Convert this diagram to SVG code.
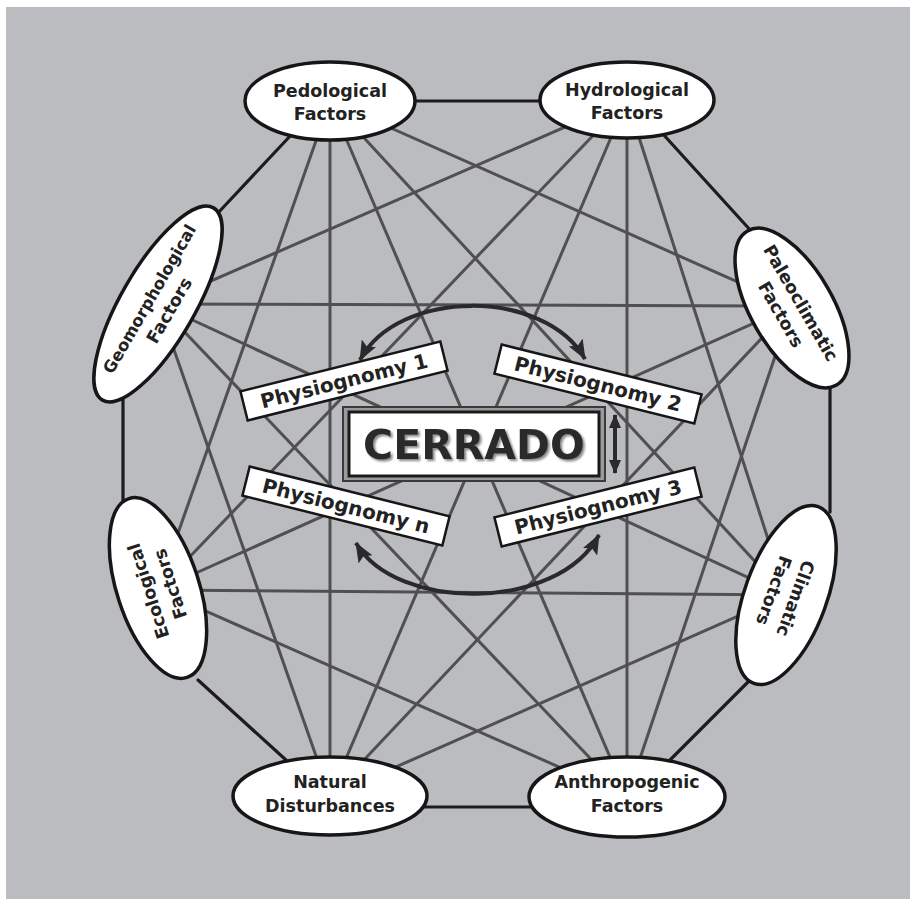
<svg xmlns="http://www.w3.org/2000/svg" width="910" height="899" viewBox="0 0 910 899">
<defs>
<style>
.bg{fill:#bbbcc0}
.edge{stroke:#1c1c1c;stroke-width:3.2;fill:none;stroke-linecap:round}
.link{stroke:#505050;stroke-width:3;fill:none}
.node ellipse{fill:#fff;stroke:#161616;stroke-width:3.5}
.node text{font-family:"DejaVu Sans",Verdana,sans-serif;font-weight:bold;font-size:17.5px;fill:#222;text-anchor:middle}
.phys rect{fill:#fff;stroke:#161616;stroke-width:2.5}
.phys text{font-family:"DejaVu Sans",Verdana,sans-serif;font-weight:bold;font-size:20px;fill:#222;text-anchor:middle}
.arc{stroke:#2a2a2a;stroke-width:4;fill:none}
</style>
<marker id="ah" markerUnits="userSpaceOnUse" viewBox="0 0 20 16" markerWidth="20" markerHeight="16" refX="19" refY="8" orient="auto-start-reverse"><path d="M0,0 L20,8 L0,16 L4,8 z" fill="#2a2a2a"/></marker>
<marker id="ahs" markerUnits="userSpaceOnUse" viewBox="0 0 14 12" markerWidth="14" markerHeight="12" refX="13" refY="6" orient="auto-start-reverse"><path d="M0,0 L14,6 L0,12 z" fill="#2a2a2a"/></marker>
<filter id="sh" x="-10%" y="-20%" width="120%" height="140%"><feDropShadow dx="2" dy="2" stdDeviation="1.2" flood-color="#8a8a8a" flood-opacity="1"/></filter>
</defs>
<rect class="bg" x="6" y="7" width="904" height="892"/>
<g id="connectors">
<line class="link" x1="330" y1="101" x2="792" y2="306"/>
<line class="link" x1="330" y1="101" x2="786" y2="595"/>
<line class="link" x1="330" y1="101" x2="627" y2="797"/>
<line class="link" x1="330" y1="101" x2="330" y2="796"/>
<line class="link" x1="330" y1="101" x2="158" y2="590"/>
<line class="link" x1="627" y1="100" x2="786" y2="595"/>
<line class="link" x1="627" y1="100" x2="627" y2="797"/>
<line class="link" x1="627" y1="100" x2="330" y2="796"/>
<line class="link" x1="627" y1="100" x2="158" y2="590"/>
<line class="link" x1="627" y1="100" x2="158" y2="304"/>
<line class="link" x1="792" y1="306" x2="627" y2="797"/>
<line class="link" x1="792" y1="306" x2="330" y2="796"/>
<line class="link" x1="792" y1="306" x2="158" y2="590"/>
<line class="link" x1="792" y1="306" x2="158" y2="304"/>
<line class="link" x1="786" y1="595" x2="330" y2="796"/>
<line class="link" x1="786" y1="595" x2="158" y2="590"/>
<line class="link" x1="786" y1="595" x2="158" y2="304"/>
<line class="link" x1="627" y1="797" x2="158" y2="590"/>
<line class="link" x1="627" y1="797" x2="158" y2="304"/>
<line class="link" x1="330" y1="796" x2="158" y2="304"/>
<line class="edge" x1="410" y1="101" x2="545" y2="101"/>
<line class="edge" x1="662" y1="133" x2="752" y2="232"/>
<line class="edge" x1="830" y1="378" x2="830" y2="512"/>
<line class="edge" x1="750" y1="680" x2="670" y2="760"/>
<line class="edge" x1="420" y1="807" x2="534" y2="807"/>
<line class="edge" x1="286" y1="760" x2="198" y2="680"/>
<line class="edge" x1="123" y1="392" x2="123" y2="502"/>
<line class="edge" x1="217" y1="214" x2="292" y2="134"/>
<path class="arc" d="M360,360 C398,288 545,288 585,359" marker-start="url(#ah)" marker-end="url(#ah)"/>
<path class="arc" d="M356,543 C396,612 558,612 599,535" marker-start="url(#ah)" marker-end="url(#ah)"/>
<line class="arc" x1="615" y1="415" x2="615" y2="473" stroke-width="3.5" marker-start="url(#ahs)" marker-end="url(#ahs)"/>
</g>
<g id="pedological" class="node" transform="translate(330,101)"><ellipse rx="85" ry="39"/><text y="-4">Pedological</text><text y="19">Factors</text></g>
<g id="hydrological" class="node" transform="translate(627,100)"><ellipse rx="87" ry="38"/><text y="-4">Hydrological</text><text y="19">Factors</text></g>
<g id="paleoclimatic" class="node" transform="translate(792,308) rotate(60)"><ellipse rx="89" ry="41"/><text y="-4">Paleoclimatic</text><text y="19">Factors</text></g>
<g id="climatic" class="node" transform="translate(786,595) rotate(110)"><ellipse rx="94" ry="41"/><text y="-4">Climatic</text><text y="19">Factors</text></g>
<g id="anthropogenic" class="node" transform="translate(627,797)"><ellipse rx="98" ry="40"/><text y="-9">Anthropogenic</text><text y="15">Factors</text></g>
<g id="natural" class="node" transform="translate(330,796)"><ellipse rx="97" ry="39"/><text y="-8">Natural</text><text y="16">Disturbances</text></g>
<g id="ecological" class="node" transform="translate(158,588) rotate(-108)"><ellipse rx="94" ry="41"/><text y="-4">Ecological</text><text y="19">Factors</text></g>
<g id="geomorphological" class="node" transform="translate(158,304) rotate(-60)"><ellipse rx="111" ry="37"/><text y="-4" style="font-size:16.5px">Geomorphological</text><text y="19">Factors</text></g>
<g id="cerrado">
<rect x="343" y="407" width="262" height="74" fill="#9a9a9a" stroke="#3a3a3a" stroke-width="2"/>
<rect x="349" y="412" width="250" height="64" fill="#fff" stroke="#1a1a1a" stroke-width="3"/>
<text x="474" y="459" filter="url(#sh)" style="font-family:'DejaVu Sans',Verdana,sans-serif;font-weight:bold;font-size:41px;fill:#2a2a2a;text-anchor:middle">CERRADO</text>
</g>
<g id="phys1" class="phys" transform="translate(344,381) rotate(-14)"><rect x="-103" y="-15" width="206" height="30"/><text y="7">Physiognomy 1</text></g>
<g id="phys2" class="phys" transform="translate(598,384) rotate(14)"><rect x="-103" y="-15" width="206" height="30"/><text y="7">Physiognomy 2</text></g>
<g id="physn" class="phys" transform="translate(346,506) rotate(14)"><rect x="-103" y="-15" width="206" height="30"/><text y="7">Physiognomy n</text></g>
<g id="phys3" class="phys" transform="translate(598,507) rotate(-14)"><rect x="-103" y="-15" width="206" height="30"/><text y="7">Physiognomy 3</text></g>
</svg>
